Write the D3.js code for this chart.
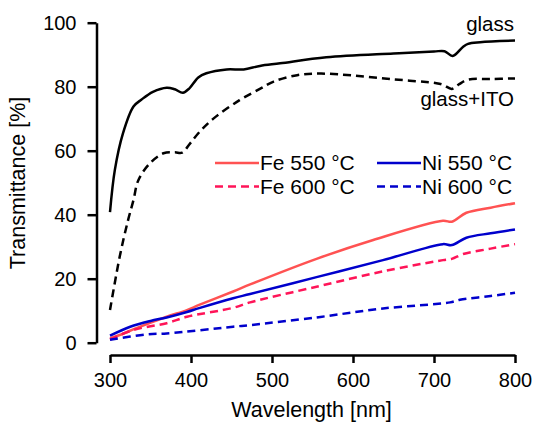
<!DOCTYPE html>
<html>
<head>
<meta charset="utf-8">
<script src="https://cdn.jsdelivr.net/npm/d3@7/dist/d3.min.js"></script>
<style>
  html, body { margin: 0; padding: 0; background: #fff; }
  svg { display: block; font-family: "Liberation Sans", Arial, sans-serif; }
</style>
</head>
<body>
<svg id="chart" width="533" height="423"></svg>
<script>
// ---- data (wavelength nm, transmittance %) ----
const glassWl = [300,306,316,329,339,353,370,380,390,398,409,419,444,465,485,510,567,650,700,713,723,736,742,757,800];
const glassT  = [40.8,54,65.4,73.8,76,78.4,79.7,79.2,78.1,79.5,82.9,84.2,85.4,85.4,86.5,87.3,89.2,90.4,91.0,91.1,89.6,92.5,93.4,93.9,94.4];

const itoWl = [300,312,322,329,335,349,366,380,389,399,411,428,460,485,502,531,560,600,650,703,711,722,730,742,770,800];
const itoT  = [10.2,26.9,38,44.6,50.8,56,59.2,59.5,59.4,62.3,66,70.1,75.8,79.3,81.6,83.6,84.1,83.5,82.3,81.1,80.6,79.3,80.6,82.2,82.4,82.6];

const fe550Wl = [300,312,335,370,395,410,452,473,555,625,711,722,740,770,800];
const fe550T  = [1.4,2.4,4.8,8.1,10.2,11.8,16.0,18.2,26.2,32.1,38.1,37.8,40.6,42.2,43.6];

const ni550Wl = [300,325,350,370,395,410,452,473,555,637,711,722,740,770,800];
const ni550T  = [2.2,5,6.8,7.9,9.6,10.8,13.9,15.2,20.5,25.8,30.8,30.5,32.8,34.2,35.4];

const fe600Wl = [300,329,370,395,452,473,555,637,711,722,736,770,800];
const fe600T  = [1.0,4,6.1,8.1,10.9,12.6,17.5,22.3,25.8,26.2,27.7,29.4,30.8];

const ni600Wl = [300,345,370,452,473,555,637,720,732,770,800];
const ni600T  = [0.9,2.6,2.9,5.0,5.5,7.9,10.7,12.6,13.4,14.6,15.6];

const xTicks = [300,400,500,600,700,800];
const yTicks = [0,20,40,60,80,100];

const seriesNames = ["Fe 550 °C","Fe 600 °C","Ni 550 °C","Ni 600 °C"];

// ---- chart ----
const svg = d3.select("#chart");
const x = d3.scaleLinear().domain([300, 800]).range([110, 515]);
const y = d3.scaleLinear().domain([0, 100]).range([342.7, 22.7]);

const tickFont = 20;
const titleFont = 21.5;
const legendFont = 21;
const labelFont = 20.5;

// y axis
const yAxisG = svg.append("g")
  .attr("transform", "translate(96.5,0)")
  .call(d3.axisLeft(y).tickValues(yTicks).tickSizeInner(9).tickSizeOuter(0).tickPadding(11));
// x axis
const xAxisG = svg.append("g")
  .attr("transform", "translate(0,355)")
  .call(d3.axisBottom(x).tickValues(xTicks).tickSizeInner(8).tickSizeOuter(0).tickPadding(10));

[yAxisG, xAxisG].forEach(g => {
  g.select(".domain").attr("stroke", "#000").attr("stroke-width", 2.5);
  g.selectAll(".tick line").attr("stroke", "#000").attr("stroke-width", 2.5);
  g.selectAll(".tick text").attr("fill", "#000")
    .style("font-size", tickFont + "px")
    .style("font-family", "'Liberation Sans', Arial, sans-serif");
});

// axis titles
svg.append("text")
  .attr("x", 311.5).attr("y", 417)
  .attr("text-anchor", "middle")
  .style("font-size", titleFont + "px")
  .text("Wavelength [nm]");

svg.append("text")
  .attr("transform", "translate(25,183) rotate(-90)")
  .attr("text-anchor", "middle")
  .style("font-size", titleFont + "px")
  .text("Transmittance [%]");

// lines
const line = d3.line()
  .x(d => x(d[0]))
  .y(d => y(d[1]))
  .curve(d3.curveCatmullRom.alpha(0.5));

const zip = (a, b) => a.map((v, i) => [v, b[i]]);

const series = [
  { wl: glassWl, t: glassT, color: "#000", dash: null },
  { wl: itoWl,   t: itoT,   color: "#000", dash: "8,5" },
  { wl: fe550Wl, t: fe550T, color: "#ff5252", dash: null },
  { wl: fe600Wl, t: fe600T, color: "#ff1458", dash: "8,5" },
  { wl: ni550Wl, t: ni550T, color: "#0000cc", dash: null },
  { wl: ni600Wl, t: ni600T, color: "#0000cc", dash: "8,5" }
];

series.forEach(s => {
  svg.append("path")
    .datum(zip(s.wl, s.t))
    .attr("d", line)
    .attr("fill", "none")
    .attr("stroke", s.color)
    .attr("stroke-width", 2.5)
    .attr("stroke-dasharray", s.dash);
});

// curve labels
svg.append("text").attr("x", 514).attr("y", 31).attr("text-anchor", "end")
  .style("font-size", labelFont + "px").text("glass");
svg.append("text").attr("x", 514).attr("y", 106).attr("text-anchor", "end")
  .style("font-size", labelFont + "px").text("glass+ITO");

// legend
const legendItems = [
  { name: seriesNames[0], color: "#ff5252", dash: null,  lx: 215, ly: 163 },
  { name: seriesNames[1], color: "#ff1458", dash: "8,5", lx: 215, ly: 186.5 },
  { name: seriesNames[2], color: "#0000cc", dash: null,  lx: 377, ly: 163 },
  { name: seriesNames[3], color: "#0000cc", dash: "8,5", lx: 377, ly: 186.5 }
];
legendItems.forEach(it => {
  svg.append("line")
    .attr("x1", it.lx).attr("x2", it.lx + 44)
    .attr("y1", it.ly).attr("y2", it.ly)
    .attr("stroke", it.color).attr("stroke-width", 2.5)
    .attr("stroke-dasharray", it.dash);
  svg.append("text")
    .attr("x", it.lx + 45).attr("y", it.ly).attr("dy", "0.35em")
    .style("font-size", legendFont + "px")
    .text(it.name);
});
</script>
</body>
</html>
